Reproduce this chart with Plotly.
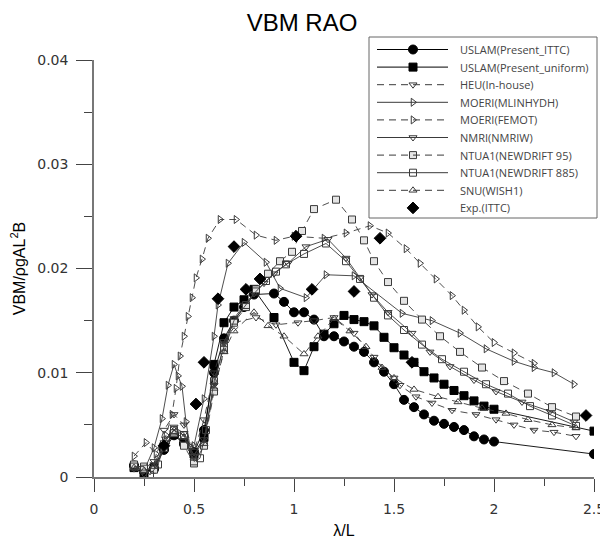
import plotly.graph_objects as go

# ---------------- data ----------------
x_ittc = [0.2,0.25,0.3,0.35,0.4,0.45,0.5,0.55,0.6,0.65,0.7,0.75,0.8,0.9,0.95,1.0,1.05,1.1,1.15,1.2,1.25,1.3,1.35,1.4,1.45,1.5,1.55,1.6,1.65,1.7,1.75,1.8,1.85,1.9,1.95,2.0,2.5]
y_ittc = [0.0011,0.0005,0.0008,0.0026,0.0040,0.0032,0.0024,0.0045,0.0100,0.0133,0.0150,0.0163,0.0175,0.0176,0.0168,0.0158,0.0158,0.0151,0.0135,0.0135,0.0130,0.0125,0.0120,0.0110,0.0101,0.0089,0.0074,0.0067,0.0060,0.0054,0.0051,0.0048,0.0045,0.0039,0.0036,0.0034,0.0022]

x_unif = [0.2,0.25,0.3,0.35,0.4,0.45,0.5,0.55,0.6,0.65,0.7,0.75,0.8,0.9,1.0,1.05,1.1,1.15,1.2,1.25,1.3,1.35,1.4,1.45,1.5,1.55,1.6,1.65,1.7,1.75,1.8,1.85,1.9,1.95,2.0,2.5]
y_unif = [0.0009,0.0003,0.0009,0.0029,0.0041,0.0033,0.0022,0.0038,0.0108,0.0148,0.0163,0.0170,0.0180,0.0153,0.0110,0.0102,0.0125,0.0137,0.0147,0.0155,0.0151,0.0149,0.0145,0.0134,0.0124,0.0117,0.0110,0.0101,0.0095,0.0089,0.0083,0.0078,0.0073,0.0068,0.0065,0.0044]

x_heu = [0.2,0.25,0.3,0.35,0.4,0.45,0.5,0.55,0.6,0.65,0.7,0.81,0.91,1.02,1.1,1.2,1.3,1.4,1.5,1.53,1.61,1.69,1.79,1.91,2.01,2.1,2.2,2.3,2.41]
y_heu = [0.0012,0.0008,0.0015,0.0045,0.0060,0.0050,0.0025,0.0055,0.0100,0.0130,0.0148,0.0153,0.0146,0.0148,0.0150,0.0153,0.0138,0.0115,0.0095,0.0088,0.0077,0.0071,0.0064,0.0060,0.0055,0.0050,0.0045,0.0043,0.0039]

x_mlin = [0.2,0.25,0.3,0.34,0.37,0.4,0.42,0.44,0.46,0.48,0.5,0.55,0.6,0.62,0.67,0.75,0.86,0.93,1.06,1.16,1.3,1.54,1.69,1.83,1.96,2.1,2.2,2.3,2.4]
y_mlin = [0.0010,0.0006,0.0028,0.0056,0.0088,0.0108,0.0097,0.0087,0.0053,0.0029,0.0030,0.0075,0.0135,0.0165,0.0205,0.0225,0.0206,0.0181,0.0172,0.0194,0.0193,0.0157,0.0150,0.0138,0.0123,0.0111,0.0105,0.0100,0.0089]

x_femot = [0.2,0.26,0.31,0.36,0.39,0.41,0.43,0.45,0.47,0.49,0.51,0.54,0.57,0.63,0.71,0.81,0.91,1.0,1.15,1.26,1.38,1.47,1.56,1.63,1.71,1.79,1.85,1.92,2.0,2.1,2.2]
y_femot = [0.0020,0.0033,0.0022,0.0040,0.0060,0.0085,0.0116,0.0135,0.0154,0.0172,0.0191,0.0209,0.0229,0.0247,0.0247,0.0232,0.0227,0.0231,0.0229,0.0234,0.0241,0.0234,0.0219,0.0205,0.0190,0.0174,0.0160,0.0144,0.0129,0.0119,0.0109]

x_nmri = [0.2,0.25,0.3,0.35,0.4,0.45,0.5,0.55,0.6,0.65,0.7,0.75,0.8,0.85,0.9,0.97,1.06,1.17,1.26,1.33,1.39,1.47,1.59,1.68,1.78,1.9,2.01,2.14,2.28,2.4]
y_nmri = [0.0008,0.0003,0.0012,0.0033,0.0048,0.0042,0.0020,0.0036,0.0088,0.0128,0.0152,0.0165,0.0176,0.0186,0.0195,0.0205,0.0221,0.0228,0.0210,0.0191,0.0175,0.0158,0.0138,0.0120,0.0106,0.0093,0.0082,0.0072,0.0063,0.0053]

x_nd95 = [0.2,0.25,0.3,0.35,0.4,0.45,0.5,0.55,0.6,0.65,0.7,0.76,0.81,0.87,0.93,0.99,1.04,1.10,1.21,1.29,1.35,1.40,1.47,1.55,1.64,1.73,1.83,1.94,2.05,2.17,2.29,2.41]
y_nd95 = [0.0012,0.0008,0.0007,0.0028,0.0042,0.0030,0.0013,0.0030,0.0082,0.0122,0.0148,0.0163,0.0180,0.0195,0.0207,0.0216,0.0236,0.0257,0.0266,0.0247,0.0227,0.0207,0.0187,0.0169,0.0151,0.0135,0.0120,0.0105,0.0092,0.0080,0.0067,0.0058]

x_nd885 = [0.2,0.25,0.28,0.32,0.36,0.4,0.45,0.5,0.53,0.56,0.6,0.65,0.7,0.76,0.81,0.86,0.91,0.96,1.05,1.16,1.26,1.33,1.4,1.47,1.55,1.64,1.74,1.85,1.96,2.07,2.18,2.29,2.41]
y_nd885 = [0.0010,0.0010,0.0002,0.0012,0.0035,0.0045,0.0040,0.0015,0.0018,0.0045,0.0092,0.0125,0.0150,0.0165,0.0178,0.0188,0.0197,0.0204,0.0214,0.0224,0.0207,0.0190,0.0172,0.0155,0.0141,0.0127,0.0113,0.0101,0.0089,0.0080,0.0068,0.0059,0.0049]

x_snu = [0.2,0.25,0.3,0.35,0.4,0.45,0.5,0.55,0.6,0.65,0.7,0.8,0.87,0.95,1.05,1.12,1.2,1.28,1.36,1.44,1.5,1.6,1.72,1.82,1.94,2.06,2.17,2.29,2.41]
y_snu = [0.0009,0.0006,0.0010,0.0030,0.0042,0.0038,0.0018,0.0032,0.0085,0.0120,0.0140,0.0158,0.0145,0.0135,0.0118,0.0135,0.0152,0.0140,0.0125,0.0105,0.0095,0.0084,0.0077,0.0072,0.0066,0.0061,0.0055,0.0050,0.0047]

x_exp = [0.35,0.51,0.55,0.62,0.70,0.76,0.83,1.01,1.09,1.30,1.43,1.59,2.46]
y_exp = [0.0030,0.0070,0.0110,0.0171,0.0221,0.0180,0.0190,0.0231,0.0180,0.0178,0.0229,0.0110,0.0059]

names = ["USLAM(Present_ITTC)", "USLAM(Present_uniform)", "HEU(In-house)",
         "MOERI(MLINHYDH)", "MOERI(FEMOT)", "NMRI(NMRIW)",
         "NTUA1(NEWDRIFT 95)", "NTUA1(NEWDRIFT 885)", "SNU(WISH1)", "Exp.(ITTC)"]

x_ticks = [0, 0.5, 1, 1.5, 2, 2.5]
x_tick_labels = ["0", "0.5", "1", "1.5", "2", "2.5"]
y_ticks = [0, 0.01, 0.02, 0.03, 0.04]
y_tick_labels = ["0", "0.01", "0.02", "0.03", "0.04"]

DASH = "7px,5px"
GRAY = "#3a3a3a"

# style per series: (symbol, size, fill, line colour, dash, mode, marker-outline)
styles = [
    ("circle", 9, "black", "black", "solid", "lines+markers", "black"),
    ("square", 8, "black", "black", "solid", "lines+markers", "black"),
    ("triangle-down-open", 7, GRAY, GRAY, DASH, "lines+markers", GRAY),
    ("triangle-right-open", 7, GRAY, GRAY, "solid", "lines+markers", GRAY),
    ("triangle-right-open", 7, GRAY, GRAY, DASH, "lines+markers", GRAY),
    ("triangle-down-open", 7, GRAY, GRAY, "solid", "lines+markers", GRAY),
    ("square", 7, "#e4e4e4", GRAY, DASH, "lines+markers", GRAY),
    ("square-open", 7, GRAY, GRAY, "solid", "lines+markers", GRAY),
    ("triangle-up-open", 7, GRAY, GRAY, DASH, "lines+markers", GRAY),
    ("diamond", 9, "black", "black", "solid", "markers", "black"),
]
series = [(x_ittc, y_ittc), (x_unif, y_unif), (x_heu, y_heu), (x_mlin, y_mlin),
          (x_femot, y_femot), (x_nmri, y_nmri), (x_nd95, y_nd95), (x_nd885, y_nd885),
          (x_snu, y_snu), (x_exp, y_exp)]

# ---------------- geometry (page has an 8px body margin) ----------------
W, H = 600, 531
ML, MR, MT, MB = 86, 14, 52, 62
PW, PH = W - ML - MR, H - MT - MB          # 500 x 417 plot area
X0_PAGE, Y0_PAGE = 8 + ML, 8 + MT          # plot-area top-left on the page

def px_to_paper_x(px):
    return (px - X0_PAGE) / PW

def py_to_paper_y(py):
    return 1 - (py - Y0_PAGE) / PH

fig = go.Figure()

for (xs, ys), name, st in zip(series, names, styles):
    sym, size, fill, lcol, dash, mode, mline = st
    fig.add_trace(go.Scatter(
        x=xs, y=ys, name=name, mode=mode, showlegend=False,
        line=dict(color=lcol, width=0.9, dash=dash),
        marker=dict(symbol=sym, size=size, color=fill, line=dict(color=mline, width=1)),
    ))

# ---------------- hand-built legend (box, sample lines, markers, labels) ----------------
shapes = [dict(type="rect", xref="paper", yref="paper", layer="below",
               x0=px_to_paper_x(369), x1=px_to_paper_x(597),
               y0=py_to_paper_y(218), y1=py_to_paper_y(37),
               line=dict(color="#666666", width=1), fillcolor="white")]
annotations = []
ROW0, ROWSTEP = 49.5, 17.6
LINE_X0, LINE_X1, MARK_X, TEXT_X = 377, 448, 413, 458
for i, (name, st) in enumerate(zip(names, styles)):
    sym, size, fill, lcol, dash, mode, mline = st
    yrow = ROW0 + i * ROWSTEP
    yp = py_to_paper_y(yrow)
    if mode != "markers":
        shapes.append(dict(type="line", xref="paper", yref="paper", layer="above",
                           x0=px_to_paper_x(LINE_X0), x1=px_to_paper_x(LINE_X1), y0=yp, y1=yp,
                           line=dict(color=lcol, width=1, dash=dash)))
    if yrow < Y0_PAGE + 4:
        # above the plotting area: markers would be culled, so draw a filled circle shape
        r = size / 2
        shapes.append(dict(type="circle", xref="paper", yref="paper", layer="above",
                           x0=px_to_paper_x(MARK_X - r), x1=px_to_paper_x(MARK_X + r),
                           y0=py_to_paper_y(yrow + r), y1=py_to_paper_y(yrow - r),
                           fillcolor=fill, line=dict(color=mline, width=1)))
    else:
        fig.add_trace(go.Scatter(
            x=[px_to_paper_x(MARK_X)], y=[yp], xaxis="x2", yaxis="y2", mode="markers",
            showlegend=False, cliponaxis=False, hoverinfo="skip",
            marker=dict(symbol=sym, size=size, color=fill, line=dict(color=mline, width=1)),
        ))
    annotations.append(dict(text=name, xref="paper", yref="paper", x=px_to_paper_x(TEXT_X), y=yp,
                            xanchor="left", yanchor="middle", showarrow=False,
                            font=dict(family="Open Sans", size=11, color="#444444")))

tickfont = dict(family="DejaVu Sans", size=14, color="#333333")

fig.update_layout(
    width=W, height=H,
    margin=dict(l=ML, r=MR, t=MT, b=MB, autoexpand=False),
    paper_bgcolor="white", plot_bgcolor="white",
    title=dict(text="VBM RAO", x=(302 - 8) / W, xanchor="center", y=1 - (23 - 8) / H, yanchor="middle",
               font=dict(family="Liberation Sans", size=24, color="black")),
    showlegend=False,
    shapes=shapes,
    annotations=annotations,
    xaxis=dict(range=[0, 2.5], tickvals=x_ticks, ticktext=x_tick_labels, automargin=False,
               showgrid=False, zeroline=False, showline=True, linecolor="#777777", linewidth=1.5,
               ticks="outside", ticklen=13, tickcolor="#444444", tickwidth=1.2, ticklabelstandoff=5,
               minor=dict(tickvals=[0.25, 0.75, 1.25, 1.75, 2.25], ticks="outside", ticklen=7,
                          tickcolor="#444444", tickwidth=1.2, showgrid=False),
               tickfont=tickfont,
               title=dict(text="λ/L", font=dict(family="Liberation Sans", size=16, color="black"),
                          standoff=13)),
    yaxis=dict(range=[0, 0.04], tickvals=y_ticks, ticktext=y_tick_labels, automargin=False,
               showgrid=False, zeroline=False, showline=True, linecolor="#777777", linewidth=1.5,
               ticks="outside", ticklen=16, tickcolor="#444444", tickwidth=1.2, ticklabelstandoff=5,
               minor=dict(tickvals=[0.005, 0.015, 0.025, 0.035], ticks="outside", ticklen=8,
                          tickcolor="#444444", tickwidth=1.2, showgrid=False),
               tickfont=tickfont,
               title=dict(text="VBM/ρgAL<sup>2</sup>B",
                          font=dict(family="Liberation Sans", size=16, color="black"),
                          standoff=15)),
    xaxis2=dict(range=[0, 1], overlaying="x", visible=False, fixedrange=True),
    yaxis2=dict(range=[0, 1], overlaying="y", visible=False, fixedrange=True),
)

fig.write_html("out.html")
